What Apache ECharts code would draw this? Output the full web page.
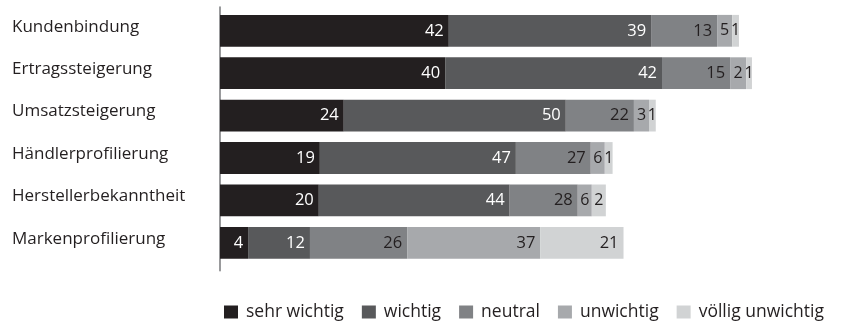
<!DOCTYPE html>
<html>
<head>
<meta charset="utf-8">
<script src="https://cdn.jsdelivr.net/npm/echarts@6/dist/echarts.min.js"></script>
<style>html,body{margin:0;padding:0;background:#fff;}#c{width:845px;height:322px;}</style>
</head>
<body>
<div id="c"></div>
<script>
const categories = ['Kundenbindung','Ertragssteigerung','Umsatzsteigerung','Händlerprofilierung','Herstellerbekanntheit','Markenprofilierung'];
const seriesNames = ['sehr wichtig','wichtig','neutral','unwichtig','völlig unwichtig'];
// bar lengths as drawn in the picture
const sehrWichtig      = [44.0, 43.3, 23.8, 19.2, 19.0, 5.4];
const wichtig          = [38.9, 41.7, 42.7, 37.7, 36.7, 11.9];
const neutral          = [12.7, 13.1, 13.1, 14.4, 13.1, 18.7];
const unwichtig        = [2.9, 3.1, 2.9, 2.7, 2.7, 25.6];
const voelligUnwichtig = [1.3, 1.1, 1.3, 1.5, 2.7, 16.0];
// printed value labels
const sehrWichtigLbl      = [42, 40, 24, 19, 20, 4];
const wichtigLbl          = [39, 42, 50, 47, 44, 12];
const neutralLbl          = [13, 15, 22, 27, 28, 26];
const unwichtigLbl        = [5, 2, 3, 6, 6, 37];
const voelligUnwichtigLbl = [1, 1, 1, 1, 2, 21];

const values = [sehrWichtig, wichtig, neutral, unwichtig, voelligUnwichtig];
const labels = [sehrWichtigLbl, wichtigLbl, neutralLbl, unwichtigLbl, voelligUnwichtigLbl];
const colors = ['#231f20', '#58595b', '#808285', '#a7a9ac', '#d1d3d4'];
const labelColors = ['#ffffff', '#ffffff', '#231f20', '#231f20', '#231f20'];
const FONT = '"Open Sans", sans-serif';

const series = seriesNames.map((name, s) => ({
  name: name,
  type: 'bar',
  stack: 'total',
  xAxisIndex: 0,
  yAxisIndex: 0,
  barWidth: '75%',
  itemStyle: { color: colors[s] },
  data: values[s].map((v, i) => ({
    value: v,
    label: v < 4 ? { position: 'inside', fontSize: 16 } : { position: 'insideRight' }
  })),
  label: {
    show: true,
    distance: 5,
    color: labelColors[s],
    fontFamily: FONT,
    fontSize: 16.5,
    formatter: p => String(labels[s][p.dataIndex])
  },
  emphasis: { disabled: true },
  animation: false
}));

const chart = echarts.init(document.getElementById('c'), null, { renderer: 'canvas' });
chart.setOption({
  backgroundColor: '#ffffff',
  animation: false,
  color: colors,
  grid: [
    { left: 220, top: 9.6, height: 254.4, width: 624, containLabel: false },
    { left: 219.5, top: 7, height: 263.7, width: 1, containLabel: false }
  ],
  xAxis: [
    { type: 'value', gridIndex: 0, min: 0, max: 120, show: false },
    { type: 'value', gridIndex: 1, min: 0, max: 1, show: false }
  ],
  yAxis: [
    {
      type: 'category', gridIndex: 0, data: categories, inverse: true,
      axisLine: { show: false }, axisTick: { show: false }, splitLine: { show: false },
      axisLabel: {
        align: 'left', margin: 208, color: '#231f20', fontFamily: FONT, fontSize: 17,
        verticalAlign: 'bottom', lineHeight: 8
      }
    },
    {
      type: 'value', gridIndex: 1, min: 0, max: 1,
      axisLine: { show: true, lineStyle: { color: '#77787b', width: 1.5 } },
      axisTick: { show: false }, axisLabel: { show: false }, splitLine: { show: false }
    }
  ],
  legend: {
    data: seriesNames,
    left: 219,
    top: 298,
    width: 700,
    icon: 'rect',
    itemWidth: 14,
    itemHeight: 13,
    itemGap: 18,
    textStyle: { color: '#231f20', fontFamily: FONT, fontSize: 17.5, padding: [0, 0, 0, 3] },
    selectedMode: false
  },
  series: series
});
</script>
</body>
</html>
